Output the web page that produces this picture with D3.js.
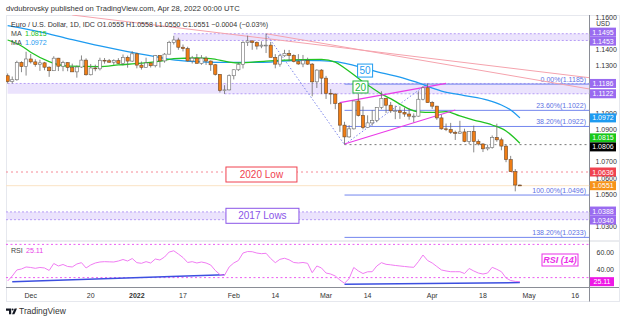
<!DOCTYPE html>
<html><head><meta charset="utf-8">
<script src="https://cdn.jsdelivr.net/npm/d3@7"></script>
<style>
html,body{margin:0;padding:0;background:#fff;}
svg{display:block;font-family:"Liberation Sans",Arial,sans-serif;}
</style></head><body>
<svg id="chart" width="625" height="322"></svg>
<script>
// ---- EUR/USD daily candles, 24 Nov 2021 – 28 Apr 2022 (weekdays) ----
const firstDay = "2021-11-24", lastDay = "2022-04-28";
const opens = [1.1234,1.1198,1.1209,1.1317,1.1291,
 1.1338,1.1320,1.1303,1.1314,1.1287,1.1265,1.1343,1.1293,1.1315,1.1285,1.1258,1.1288,1.1331,1.1240,1.1282,1.1277,1.1330,1.1327,1.1318,1.1328,1.1310,1.1348,1.1325,
 1.1370,1.1300,1.1286,1.1313,1.1296,1.1359,1.1326,1.1368,1.1441,1.1456,1.1411,1.1402,1.1326,1.1343,1.1310,1.1343,1.1325,1.1302,1.1242,1.1143,1.1146,
 1.1234,1.1271,1.1305,1.1440,1.1450,1.1440,1.1418,1.1424,1.1424,1.1348,1.1306,1.1358,1.1373,1.1360,1.1322,1.1307,1.1328,1.1306,1.1196,1.1269,
 1.1219,1.1125,1.1120,1.1062,1.0927,1.0854,1.0904,1.1077,1.0987,1.0912,1.0941,1.0956,1.1037,1.1093,1.1051,1.1016,1.1016,1.1006,1.0996,1.0983,1.0983,1.1088,1.1159,
 1.1067,1.1045,1.0972,1.0904,1.0900,1.0883,1.0876,1.0885,1.0826,1.0888,1.0826,1.0810,1.0780,1.0788,1.0851,1.0836,1.0797,1.0713,1.0638,1.0555];
const highs = [1.1248,1.1229,1.1327,1.1324,1.1383,
 1.1369,1.1336,1.1333,1.1320,1.1292,1.1355,1.1345,1.1327,1.1318,1.1309,1.1297,1.1360,1.1342,1.1307,1.1303,1.1346,1.1344,1.1338,1.1336,1.1343,1.1366,1.1359,1.1386,
 1.1376,1.1322,1.1346,1.1314,1.1363,1.1362,1.1375,1.1451,1.1482,1.1470,1.1428,1.1414,1.1357,1.1369,1.1362,1.1355,1.1329,1.1306,1.1244,1.1175,1.1242,
 1.1273,1.1314,1.1448,1.1483,1.1454,1.1447,1.1448,1.1495,1.1444,1.1368,1.1368,1.1395,1.1394,1.1367,1.1368,1.1363,1.1346,1.1313,1.1274,1.1275,
 1.1233,1.1151,1.1125,1.1070,1.0948,1.0927,1.1070,1.1121,1.1043,1.0988,1.1020,1.1038,1.1137,1.1097,1.1071,1.1048,1.1044,1.1036,1.1031,1.1000,1.1137,1.1170,1.1185,
 1.1076,1.1047,1.0992,1.0937,1.0941,1.0893,1.0954,1.0905,1.0889,1.0924,1.0838,1.0815,1.0806,1.0863,1.0936,1.0849,1.0806,1.0736,1.0654,1.0558];
const lows = [1.1186,1.1185,1.1203,1.1256,1.1235,
 1.1310,1.1290,1.1264,1.1268,1.1227,1.1264,1.1263,1.1262,1.1262,1.1259,1.1222,1.1283,1.1235,1.1236,1.1262,1.1267,1.1309,1.1314,1.1302,1.1308,1.1299,1.1284,1.1320,
 1.1280,1.1272,1.1285,1.1285,1.1286,1.1285,1.1315,1.1367,1.1428,1.1395,1.1385,1.1322,1.1310,1.1314,1.1302,1.1301,1.1264,1.1235,1.1130,1.1121,1.1143,
 1.1211,1.1263,1.1279,1.1419,1.1395,1.1397,1.1405,1.1375,1.1350,1.1280,1.1290,1.1351,1.1324,1.1317,1.1302,1.1287,1.1301,1.1106,1.1158,1.1120,
 1.1090,1.1057,1.1026,1.0885,1.0806,1.0849,1.0900,1.0981,1.0901,1.0910,1.0924,1.0945,1.1026,1.1002,1.1003,1.0964,1.0966,1.0979,1.0961,1.0945,1.0980,1.1081,1.1067,
 1.1028,1.0960,1.0899,1.0890,1.0873,1.0835,1.0875,1.0821,1.0809,1.0758,1.0801,1.0760,1.0770,1.0781,1.0824,1.0771,1.0697,1.0636,1.0516,1.0550];
const closes = [1.1198,1.1209,1.1317,1.1291,1.1338,
 1.1320,1.1303,1.1314,1.1287,1.1265,1.1343,1.1293,1.1315,1.1285,1.1258,1.1288,1.1331,1.1240,1.1282,1.1277,1.1330,1.1327,1.1318,1.1328,1.1310,1.1348,1.1325,1.1370,
 1.1300,1.1286,1.1313,1.1296,1.1359,1.1326,1.1368,1.1441,1.1456,1.1411,1.1402,1.1326,1.1343,1.1310,1.1343,1.1325,1.1302,1.1242,1.1143,1.1146,1.1234,
 1.1271,1.1305,1.1440,1.1450,1.1440,1.1418,1.1424,1.1424,1.1348,1.1306,1.1358,1.1373,1.1360,1.1322,1.1307,1.1328,1.1306,1.1196,1.1269,1.1219,
 1.1125,1.1120,1.1062,1.0927,1.0854,1.0904,1.1077,1.0987,1.0912,1.0941,1.0956,1.1037,1.1093,1.1051,1.1016,1.1016,1.1006,1.0996,1.0983,1.0983,1.1088,1.1159,1.1067,
 1.1045,1.0972,1.0904,1.0900,1.0883,1.0876,1.0885,1.0826,1.0888,1.0826,1.0810,1.0780,1.0788,1.0851,1.0836,1.0797,1.0713,1.0638,1.0555,1.0551];

// RSI(14), one value per candle
const rsiValues = [25.9,31.9,39.2,40.4,42.8,
 42.2,41.2,42.2,41.6,38.6,47,44,45.8,43.4,42.8,46.4,48,41.6,45.2,47.6,48.8,49.2,49,48.8,50,51.8,50,53,
 48,47.2,49.2,47.6,52.4,51.2,54.8,60.8,62.3,58.4,54.2,48.2,49.2,47.6,48.8,47.6,45.2,38.6,33.7,32.8,42.8,
 47.6,50.6,59.6,61.4,61.2,59.6,58.8,59.3,53,48,52,53.3,51.4,48.2,47.6,48.2,47.2,35.9,44,41.6,
 35.5,34.3,31.9,27.1,23.1,28.9,42.2,38,34.9,37,37.1,44,48,46,45.4,44.6,44,43.4,42.8,42.4,49.2,57.2,50.6,
 47.6,43.4,39.2,38,37.1,37.1,37.1,34.9,41,38,35.5,34.3,35.5,42.4,40,37.1,29.5,26.5,25.4,25.11];

// Moving averages (20 and 50 day)
const ma20Dates = ["2021-11-24","2021-11-29","2021-12-01","2021-12-07","2021-12-13","2021-12-22","2021-12-28","2022-01-04","2022-01-10","2022-01-13","2022-01-20","2022-01-25","2022-01-31","2022-02-02","2022-02-10","2022-02-18","2022-02-28","2022-03-03","2022-03-07","2022-03-09","2022-03-11","2022-03-15","2022-03-17","2022-03-21","2022-03-23","2022-03-25","2022-03-29","2022-04-01","2022-04-06","2022-04-11","2022-04-14","2022-04-20","2022-04-25","2022-04-28"];
const ma20Values = [1.1456,1.1419,1.1380,1.1322,1.1294,1.1291,1.1301,1.1312,1.1325,1.1340,1.1344,1.1340,1.1319,1.1313,1.1325,1.1332,1.1335,1.1319,1.1282,1.1240,1.1195,1.1158,1.1120,1.1092,1.1058,1.1027,1.1010,1.1006,1.1011,1.0984,1.0959,1.0928,1.0891,1.0815];
const ma50Dates = ["2021-11-24","2021-12-03","2021-12-13","2021-12-22","2021-12-30","2022-01-07","2022-01-14","2022-01-24","2022-01-31","2022-02-07","2022-02-11","2022-02-21","2022-02-25","2022-03-03","2022-03-09","2022-03-14","2022-03-17","2022-03-23","2022-03-29","2022-04-05","2022-04-12","2022-04-19","2022-04-22","2022-04-26","2022-04-28"];
const ma50Values = [1.1545,1.1506,1.1465,1.1419,1.1384,1.1353,1.1329,1.1319,1.1317,1.1317,1.1319,1.1330,1.1328,1.1322,1.1298,1.1276,1.1251,1.1226,1.1189,1.1139,1.1111,1.1083,1.1052,1.1021,1.0972];

// Price scale (levels whose labels sit under a marker box are left out) and time axis ticks
const priceTicks = [1.16,1.14,1.13,1.10,1.09,1.07,1.06,1.05,1.03];
const timeTickDates = ["2021-12-01","2021-12-20","2022-01-03","2022-01-17","2022-02-01","2022-02-14","2022-03-01","2022-03-14","2022-04-01","2022-04-18","2022-05-02","2022-05-16"];
const timeTickLabels = ["Dec","20","2022","17","Feb","14","Mar","14","Apr","18","May","16"];
const rsiTicks = [60, 40];
const rsiBands = [70, 30];

// Drawings
const zones = [
  {top:1.1495, bottom:1.1453, from:"2022-01-13"},
  {top:1.1186, bottom:1.1122, from:"2021-11-24", bottomFrom:"2022-01-28"},
  {top:1.0388, bottom:1.0340, from:"2021-11-22"}
];
const fibStart = "2022-03-07";
const fibPrices = [1.1185, 1.1022, 1.0922, 1.0496, 1.0233];
const fibLabels = ["0.00%(1.1185)","23.60%(1.1022)","38.20%(1.0922)","100.00%(1.0496)","138.20%(1.0233)"];
const trendLines = [
  [["2021-12-14",1.1611],["2022-05-19",1.1222]],
  [["2022-02-10",1.1495],["2022-05-19",1.1152]]
];
const zigzagDates = ["2022-02-10","2022-03-07","2022-03-31"];
const zigzagPrices = [1.1495, 1.0806, 1.1185];
const wedgeLines = [
  [["2022-03-04",1.1067],["2022-04-06",1.1187]],
  [["2022-03-07",1.0810],["2022-04-08",1.1021]]
];
const rsiDivergence = [
  [["2021-11-25",25.0],["2022-01-28",33.5]],
  [["2022-03-07",22.0],["2022-04-28",24.0]]
];
const priceMarkers = [
  {v:1.1495,c:"#9a6bf0"},{v:1.1453,c:"#9a6bf0"},{v:1.1186,c:"#9a6bf0"},{v:1.1122,c:"#9a6bf0"},
  {v:1.0972,c:"#1e9bf0"},{v:1.0815,c:"#19c819"},{v:1.0806,c:"#000000"},{v:1.0636,c:"#f0424f"},
  {v:1.0551,c:"#f7931a"},{v:1.0388,c:"#9a6bf0"},{v:1.0340,c:"#9a6bf0"}
];

// ---- layout ----
const svg = d3.select("#chart");
const L = 6, R = 589.5, T = 15, MAIN_B = 240.5, RSI_B = 287.5, B = 301.5;
const STEP = 4.615;
const parse = d3.utcParse("%Y-%m-%d"), fmt = d3.utcFormat("%Y-%m-%d");
const weekdays = (a, b) => d3.utcDay.range(parse(a), d3.utcDay.offset(parse(b), 1))
  .filter(d => d.getUTCDay() % 6 !== 0).map(fmt);
const slots = weekdays("2021-11-15", "2022-05-27");
const i0 = slots.indexOf("2021-12-01");
const x = d3.scalePoint().domain(slots)
  .range([30.7 - i0 * STEP, 30.7 + (slots.length - 1 - i0) * STEP]);
const y = d3.scaleLinear().domain([1.14, 1.03]).range([49, 226.1]);
const yR = d3.scaleLinear().domain([40, 60]).range([269.3, 252.7]);

const candleDates = weekdays(firstDay, lastDay);
const candles = candleDates.map((d, i) => ({d, o:opens[i], h:highs[i], l:lows[i], c:closes[i], r:rsiValues[i]}));

const defs = svg.append("defs");
defs.append("clipPath").attr("id","mainClip").append("rect")
  .attr("x",L).attr("y",T).attr("width",R-L).attr("height",MAIN_B-T);
defs.append("clipPath").attr("id","rsiClip").append("rect")
  .attr("x",L).attr("y",MAIN_B).attr("width",R-L).attr("height",RSI_B-MAIN_B);

// header
svg.append("text").attr("x",6).attr("y",11).attr("font-size",7.6).attr("fill","#333")
  .text("dvdubrovsky published on TradingView.com, Apr 28, 2022 00:00 UTC");

// frame and separators
svg.append("rect").attr("x",L+0.5).attr("y",T+0.5).attr("width",619-L).attr("height",B-T-0.5)
  .attr("fill","none").attr("stroke","#e6e8ee");
svg.append("line").attr("x1",L).attr("x2",619).attr("y1",MAIN_B+0.5).attr("y2",MAIN_B+0.5).attr("stroke","#d6d9e0");
svg.append("line").attr("x1",L).attr("x2",619).attr("y1",RSI_B).attr("y2",RSI_B).attr("stroke","#8a8d96");
svg.append("line").attr("x1",R).attr("x2",R).attr("y1",T).attr("y2",B).attr("stroke","#8a8d96");

const main = svg.append("g").attr("clip-path","url(#mainClip)");
const rsiG = svg.append("g").attr("clip-path","url(#rsiClip)");

// zones
zones.forEach(z => {
  const x0 = Math.max(L, x(z.from));
  main.append("rect").attr("x",x0).attr("y",y(z.top)).attr("width",R-x0).attr("height",y(z.bottom)-y(z.top))
    .attr("fill","#e7defd").attr("opacity",0.85);
  main.append("line").attr("x1",x0).attr("x2",R).attr("y1",y(z.top)).attr("y2",y(z.top))
    .attr("stroke","#b59cf5").attr("stroke-dasharray","2,2");
  const xb = z.bottomFrom ? x(z.bottomFrom) : x0;
  main.append("line").attr("x1",xb).attr("x2",R).attr("y1",y(z.bottom)).attr("y2",y(z.bottom))
    .attr("stroke","#b59cf5").attr("stroke-dasharray","2,2");
});

// horizontal reference lines
main.append("line").attr("x1",L).attr("x2",R).attr("y1",y(1.0636)).attr("y2",y(1.0636))
  .attr("stroke","#f58a95").attr("stroke-dasharray","2,3");
main.append("line").attr("x1",L).attr("x2",R).attr("y1",y(1.0551)).attr("y2",y(1.0551))
  .attr("stroke","#fbe3c4");
main.append("line").attr("x1",x("2022-03-07")).attr("x2",R).attr("y1",y(1.0806)).attr("y2",y(1.0806))
  .attr("stroke","#777").attr("stroke-dasharray","2,3");

// fib retracement
fibPrices.forEach((p, k) => {
  main.append("line").attr("x1",x(fibStart)).attr("x2",R).attr("y1",y(p)+0.5).attr("y2",y(p)+0.5)
    .attr("stroke","#7386ee").attr("stroke-width",1);
  main.append("text").attr("x",586).attr("y",y(p)-1.8).attr("text-anchor","end")
    .attr("font-size",7).attr("fill","#5d70e4").text(fibLabels[k]);
});

// trend lines
trendLines.forEach(([a, b]) => {
  main.append("line").attr("x1",x(a[0])).attr("y1",y(a[1])).attr("x2",x(b[0])).attr("y2",y(b[1]))
    .attr("stroke","#f5a3ad").attr("stroke-width",1);
});

// zigzag (dotted)
main.append("path").datum(zigzagDates.map((d,k)=>[x(d), y(zigzagPrices[k])]))
  .attr("d", d3.line()).attr("fill","none").attr("stroke","#7c86ec")
  .attr("stroke-width",1).attr("stroke-dasharray","1.5,2");

// moving averages
const maLine = d3.line().x(p => x(p[0])).y(p => y(p[1])).curve(d3.curveMonotoneX);
main.append("path").datum(ma50Dates.map((d,k)=>[d, ma50Values[k]]))
  .attr("d", maLine).attr("fill","none").attr("stroke","#1e9bf0").attr("stroke-width",1.3);
main.append("path").datum(ma20Dates.map((d,k)=>[d, ma20Values[k]]))
  .attr("d", maLine).attr("fill","none").attr("stroke","#22c322").attr("stroke-width",1.3);

// wedge
wedgeLines.forEach(([a, b]) => {
  main.append("line").attr("x1",x(a[0])).attr("y1",y(a[1])).attr("x2",x(b[0])).attr("y2",y(b[1]))
    .attr("stroke","#ea3be8").attr("stroke-width",1.2);
});

// candles
const cg = main.append("g");
cg.selectAll("line.wick").data(candles).join("line")
  .attr("x1", d => x(d.d)).attr("x2", d => x(d.d))
  .attr("y1", d => y(d.h)).attr("y2", d => y(d.l))
  .attr("stroke","#6b6b6b").attr("stroke-width",0.8);
cg.selectAll("rect.body").data(candles).join("rect")
  .attr("x", d => x(d.d) - 1.6).attr("width", 3.2)
  .attr("y", d => y(Math.max(d.o, d.c)))
  .attr("height", d => Math.max(0.8, y(Math.min(d.o, d.c)) - y(Math.max(d.o, d.c))))
  .attr("fill", d => d.c >= d.o ? "#ffffff" : "#f07d14")
  .attr("stroke", d => d.c >= d.o ? "#6b6b6b" : "#6b4a2e").attr("stroke-width",0.6);

// labelled boxes on the chart
function tagBox(g, cx, cy, w, h, text, color, size, extra) {
  g.append("rect").attr("x",cx-w/2).attr("y",cy-h/2).attr("width",w).attr("height",h)
    .attr("fill","#fff").attr("stroke",color).attr("stroke-width",1);
  const t = g.append("text").attr("x",cx).attr("y",cy+size*0.36).attr("text-anchor","middle")
    .attr("font-size",size).attr("fill",color).text(text);
  if (extra) extra(t);
}
tagBox(svg, x("2022-03-14")-2.5, y(1.1266), 15, 13, "50", "#1e9bf0", 10);
tagBox(svg, x("2022-03-11")-2.5, y(1.1164), 15, 12, "20", "#22b83a", 10);
tagBox(svg, x("2022-02-09"), y(1.0636)+2.5, 71, 15, "2020 Low", "#f0424f", 10);
tagBox(svg, x("2022-02-09")+1, y(1.0364), 73, 15, "2017 Lows", "#8a55e8", 10);

// legend
const leg = svg.append("text").attr("x",11).attr("y",27).attr("font-size",7.1).attr("fill","#333");
leg.append("tspan").text("Euro / U.S. Dollar, 1D, IDC  O1.0555  H1.0558  L1.0550  C1.0551  \u22120.0004 (\u22120.03%)");
[[36,"1.0815","#22c322"],[45,"1.0972","#1e9bf0"]].forEach(([yy,v,c]) => {
  svg.append("text").attr("x",11).attr("y",yy).attr("font-size",7.1).attr("fill","#444").text("MA");
  svg.append("text").attr("x",25).attr("y",yy).attr("font-size",7.1).attr("fill",c).text(v);
});

// price axis
const axisG = svg.append("g").attr("transform",`translate(${R},0)`)
  .call(d3.axisRight(y).tickValues(priceTicks).tickFormat(d3.format(".4f")).tickSize(0).tickPadding(6));
axisG.select(".domain").remove();
axisG.selectAll("text").attr("font-size",7).attr("fill","#333").attr("font-family","Liberation Sans, Arial");
svg.append("text").attr("x",603).attr("y",25.5).attr("text-anchor","middle").attr("font-size",6.5).attr("fill","#333").text("USD");

// price marker boxes with simple overlap avoidance
const BH = 9;
const marks = priceMarkers.map(m => ({...m, py: y(m.v)}));
for (let it = 0; it < 20; it++) {
  for (let k = 1; k < marks.length; k++) {
    const a = marks[k-1], b = marks[k];
    const gap = b.py - a.py;
    if (gap < BH) { a.py -= (BH - gap) * 0.7; b.py += (BH - gap) * 0.3; }
  }
}
marks.forEach(m => {
  svg.append("rect").attr("x",R+0.5).attr("y",m.py-BH/2).attr("width",26).attr("height",BH).attr("fill",m.c);
  svg.append("text").attr("x",R+13.5).attr("y",m.py+2.5).attr("text-anchor","middle")
    .attr("font-size",7).attr("fill","#fff").text(d3.format(".4f")(m.v));
});

// ---- RSI pane ----
rsiBands.forEach(v => {
  rsiG.append("line").attr("x1",L).attr("x2",R).attr("y1",yR(v)).attr("y2",yR(v))
    .attr("stroke","#ea4cf0").attr("stroke-dasharray","2,2.5").attr("stroke-width",0.9);
});
rsiDivergence.forEach(([a, b]) => {
  rsiG.append("line").attr("x1",x(a[0])).attr("y1",yR(a[1])).attr("x2",x(b[0])).attr("y2",yR(b[1]))
    .attr("stroke","#3c4fe0").attr("stroke-width",1.5);
});
rsiG.append("path").datum(candles)
  .attr("d", d3.line().x(d => x(d.d)).y(d => yR(d.r)))
  .attr("fill","none").attr("stroke","#f07cf2").attr("stroke-width",1);

const rAxis = svg.append("g").attr("transform",`translate(${R},0)`)
  .call(d3.axisRight(yR).tickValues(rsiTicks).tickFormat(d3.format(".2f")).tickSize(0).tickPadding(7));
rAxis.select(".domain").remove();
rAxis.selectAll("text").attr("font-size",7).attr("fill","#333").attr("font-family","Liberation Sans, Arial");
const lastR = rsiValues[rsiValues.length-1];
svg.append("rect").attr("x",R+0.5).attr("y",yR(lastR)-4.5).attr("width",24).attr("height",9).attr("fill","#ee18e6");
svg.append("text").attr("x",R+12.5).attr("y",yR(lastR)+2.5).attr("text-anchor","middle")
  .attr("font-size",7).attr("fill","#fff").text(d3.format(".2f")(lastR));
svg.append("text").attr("x",11).attr("y",252.5).attr("font-size",7.1).attr("fill","#444").text("RSI");
svg.append("text").attr("x",26).attr("y",252.5).attr("font-size",7.1).attr("fill","#e83fe8").text(d3.format(".2f")(lastR));
tagBox(svg, 560, 260, 36, 12, "RSI (14)", "#ea2fe8", 9, t => t.attr("font-style","italic").attr("font-weight","bold"));

// ---- time axis ----
timeTickDates.forEach((d, k) => {
  svg.append("text").attr("x", x(d)).attr("y", 298).attr("text-anchor","middle")
    .attr("font-size",7).attr("fill","#333")
    .attr("font-weight", timeTickLabels[k] === "2022" ? "bold" : "normal")
    .text(timeTickLabels[k]);
});

// footer logo
const logo = svg.append("g").attr("fill","#131722");
logo.append("path").attr("d","M6,308.6 h5.2 v5.6 h-2.2 v-3.4 h-3 z");
logo.append("circle").attr("cx",12.6).attr("cy",309.6).attr("r",1);
logo.append("path").attr("d","M14.6,308.6 h2.4 l-2.6,5.6 h-2.4 z");
svg.append("text").attr("x",19).attr("y",314.3).attr("font-size",8.5).attr("fill","#333").text("TradingView");
</script>
</body></html>
